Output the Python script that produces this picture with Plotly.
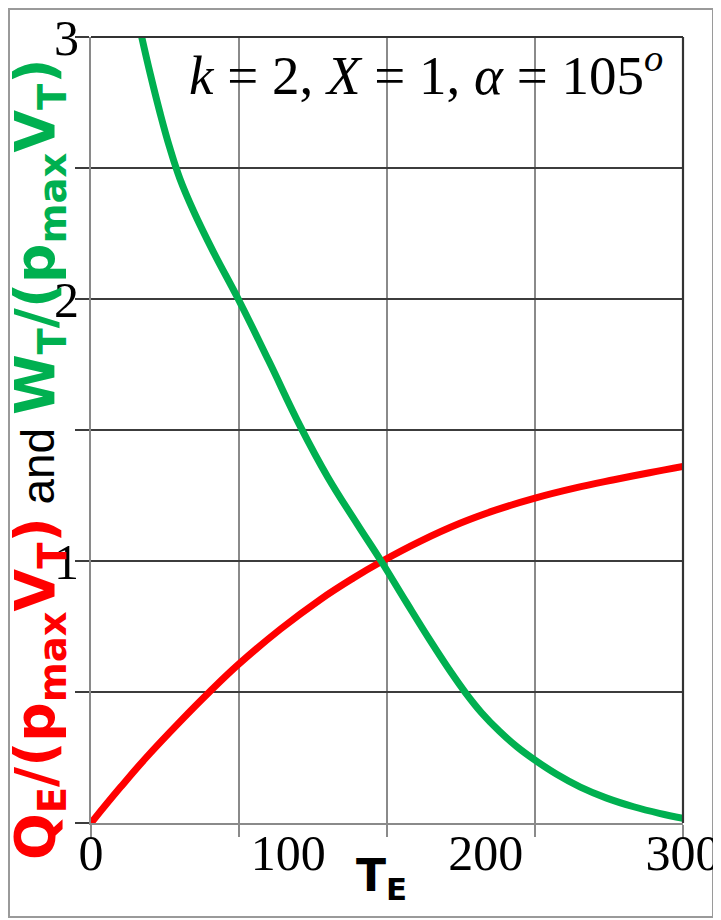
import plotly.graph_objects as go

# ---- data ----
T_Q = [0, 15, 28, 45, 60, 75, 96, 116, 133, 147, 167, 187, 205, 225, 245, 265, 283, 300]
Q_E = [0, 0.137, 0.25, 0.386, 0.5, 0.607, 0.74, 0.852, 0.935, 0.997, 1.076, 1.144, 1.194, 1.24, 1.278, 1.31, 1.337, 1.361]

T_W = [25.7, 30, 35, 40, 45, 52, 62, 74.6, 90, 106, 120, 135, 147, 160, 172, 182, 190, 198, 207, 216, 225, 236, 248, 261, 275, 288, 300]
W_T = [3.0, 2.86, 2.71, 2.575, 2.46, 2.335, 2.18, 2.0, 1.765, 1.515, 1.32, 1.14, 1.0, 0.84, 0.695, 0.58, 0.495, 0.42, 0.35, 0.29, 0.24, 0.186, 0.137, 0.096, 0.062, 0.037, 0.018]

x_tick_vals = [0, 100, 200, 300]
x_tick_text = ["0", "100", "200", "300"]
x_grid_vals = [0, 75, 150, 225, 300]
y_tick_vals = [1, 2, 3]
y_tick_text = ["1", "2", "3"]
y_grid_vals = [0, 0.5, 1, 1.5, 2, 2.5, 3]

RED = "#ff0000"
GREEN = "#00b050"

# page has an 8px body margin; figure is sized so the plot sits where the reference has it
W_FIG, H_FIG = 713, 912
L, R, T, B = 83, 38, 29, 97
PW, PH = W_FIG - L - R, H_FIG - T - B  # 592 x 786


def px(xp):   # page x (reference pixel) -> paper x
    return (xp - 8 - L) / PW


def py(yp):   # page y (reference pixel) -> paper y
    return (H_FIG - B - (yp - 8)) / PH


fig = go.Figure()
fig.add_trace(go.Scatter(x=T_Q, y=Q_E, mode="lines",
                         line=dict(color=RED, width=7, shape="spline", smoothing=1.2),
                         cliponaxis=False, showlegend=False))
fig.add_trace(go.Scatter(x=T_W, y=W_T, mode="lines",
                         line=dict(color=GREEN, width=7, shape="spline", smoothing=1.2),
                         cliponaxis=False, showlegend=False))

tickfont = dict(family="Liberation Serif", size=50, color="black")

fig.update_layout(
    width=W_FIG, height=H_FIG,
    margin=dict(l=L, r=R, t=T, b=B, autoexpand=False),
    paper_bgcolor="white", plot_bgcolor="white",
    xaxis=dict(range=[0, 300], tickvals=x_tick_vals, ticktext=x_tick_text,
               showgrid=False, zeroline=False, ticks="", automargin=False,
               showline=True, linecolor="#8a8a8a", linewidth=2,
               tickfont=tickfont, ticklabelstandoff=-15,
               minor=dict(tickvals=x_grid_vals, showgrid=True, gridcolor="#8a8a8a",
                          gridwidth=1.6, ticks="outside", ticklen=12,
                          tickcolor="#8a8a8a", tickwidth=1.6)),
    yaxis=dict(range=[0, 3], tickvals=y_tick_vals, ticktext=y_tick_text,
               showgrid=False, zeroline=False, ticks="", automargin=False,
               showline=True, linecolor="#8a8a8a", linewidth=2,
               tickfont=tickfont, ticklabelstandoff=0,
               minor=dict(tickvals=y_grid_vals, showgrid=True, gridcolor="#3c3c3c",
                          gridwidth=2.2, ticks="outside", ticklen=14,
                          tickcolor="#3c3c3c", tickwidth=2)),
)

# right and top borders of the plot box (dark)
fig.add_shape(type="line", xref="x domain", yref="y domain", x0=1, x1=1, y0=0, y1=1,
              line=dict(color="#333333", width=2.2), layer="above")
fig.add_shape(type="line", xref="x domain", yref="y domain", x0=0, x1=1, y0=1, y1=1,
              line=dict(color="#333333", width=2.2), layer="above")

# outer frame of the image
fig.add_shape(type="rect", xref="paper", yref="paper",
              x0=px(9), x1=px(713), y0=py(917), y1=py(9),
              line=dict(color="#9a9a9a", width=2), layer="below")

# parameter annotation
fig.add_annotation(xref="paper", yref="paper", x=px(426), y=py(72),
                   xanchor="center", yanchor="middle", showarrow=False,
                   text="<i>k</i> = 2, <i>X</i> = 1, <i>α</i> = 105<sup><i>o</i></sup>",
                   font=dict(family="Liberation Serif", size=55, color="black"))

# x-axis title
fig.add_annotation(xref="paper", yref="paper", x=px(381), y=py(878),
                   xanchor="center", yanchor="middle", showarrow=False,
                   text="<b>T<sub>E</sub></b>",
                   font=dict(family="DejaVu Sans", size=44, color="black"))

# y-axis title
ytitle = (f"<b><span style='color:{RED}'>Q<sub>E</sub>/(p<sub>max</sub>V<sub>T</sub>)</span></b>"
          f"<span style='color:black;font-family:Liberation Sans;font-size:46px'> and </span>"
          f"<b><span style='color:{GREEN}'>W<sub>T</sub>/(p<sub>max</sub>V<sub>T</sub>)</span></b>")
fig.add_annotation(xref="paper", yref="paper", x=px(39), y=py(460),
                   xanchor="center", yanchor="middle", showarrow=False, textangle=-90,
                   text=ytitle,
                   font=dict(family="DejaVu Sans", size=55, color="black"))

fig.write_html("out.html")
